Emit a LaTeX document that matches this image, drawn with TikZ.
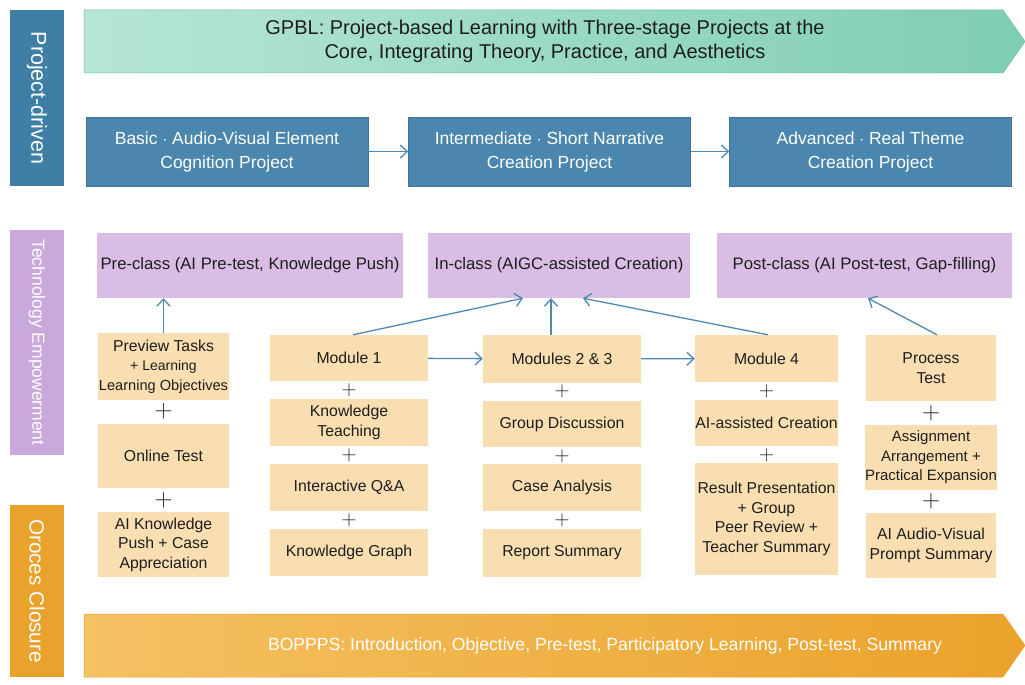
\documentclass[tikz,border=0pt]{standalone}
\usepackage{fontspec}
\setmainfont{Liberation Sans}
\usetikzlibrary{arrows.meta,calc}
\definecolor{bluebox}{HTML}{4A86AD}
\definecolor{purplebox}{HTML}{D9BDE4}
\definecolor{beige}{HTML}{F9DEB1}
\definecolor{tealL}{HTML}{B6E6D4}
\definecolor{tealR}{HTML}{7FCEB2}
\definecolor{tealD}{HTML}{6FBFA2}
\definecolor{orL}{HTML}{F4C163}
\definecolor{orR}{HTML}{EBA22A}
\definecolor{sidepurple}{HTML}{C9A9DC}
\definecolor{sideorange}{HTML}{E9A22C}
\definecolor{sideblue}{HTML}{3F7FA6}
\definecolor{lineblue}{HTML}{5089AF}
\definecolor{txt}{HTML}{1E1E1E}
\begin{document}
\begin{tikzpicture}[x=1pt,y=-1pt,
  sidebar/.style={fill=#1, draw=none, text=white, rotate=-90, inner sep=0pt,
    minimum height=54pt},
  projbox/.style={fill=bluebox, draw=bluebox!85!black, line width=0.4pt, text=white, inner sep=0pt,
    minimum width=282pt, minimum height=69pt, align=center, font=\fontsize{17.5}{24}\selectfont},
  phasebox/.style={fill=purplebox, draw=none, text=txt, inner sep=0pt,
    minimum height=65pt, align=center, font=\fontsize{16.7}{20}\selectfont},
  stepbox/.style={fill=beige, draw=none, text=txt, inner sep=0pt,
    align=center, font=\fontsize{15.8}{19.5}\selectfont},
  bigplus/.style={text=txt, inner sep=0pt, font=\fontsize{32}{32}\selectfont},
  smallplus/.style={text=txt, inner sep=0pt, font=\fontsize{20}{20}\selectfont},
  conn/.style={draw=lineblue, line width=1.3pt, -{Straight Barb[length=7pt,width=13pt,line width=1.3pt]}}
]
\useasboundingbox (0,0) rectangle (1025,685);
\fill[white] (0,0) rectangle (1025,685);

% side bars
\node[sidebar=sideblue, minimum width=176pt, font=\fontsize{21.5}{24}\selectfont] (sd1) at (37,98) {Project-driven};
\node[sidebar=sidepurple, minimum width=225pt, font=\fontsize{17.5}{22}\selectfont] (sd2) at (37,342.5) {Technology Empowerment};
\node[sidebar=sideorange, minimum width=172pt, font=\fontsize{20.7}{24}\selectfont] (sd3) at (37,591) {Oroces Closure};

% top banner
\shade[left color=tealL, right color=tealR, draw=tealD, line width=0.5pt]
  (84,10) -- (1003,10) -- (1025,41.5) -- (1003,73) -- (84,73) -- cycle;
\node[text=txt, align=center, font=\fontsize{20}{24}\selectfont] (gpbl) at (545,41.5)
  {GPBL: Project-based Learning with Three-stage Projects at the\\Core, Integrating Theory, Practice, and Aesthetics};

% project boxes
\node[projbox] (b1) at (227,151.5) {Basic $\cdot$ Audio-Visual Element\\Cognition Project};
\node[projbox] (b2) at (549.5,151.5) {Intermediate $\cdot$ Short Narrative\\Creation Project};
\node[projbox] (b3) at (870.5,151.5) {Advanced $\cdot$ Real Theme\\Creation Project};
\draw[conn] (b1) -- (b2);
\draw[conn] (b2) -- (b3);

% phase boxes
\node[phasebox, minimum width=306pt] (pre) at (250,265.5) {Pre-class (AI Pre-test, Knowledge Push)};
\node[phasebox, minimum width=262pt] (in) at (559,265.5) {In-class (AIGC-assisted Creation)};
\node[phasebox, minimum width=295pt] (post) at (864.5,265.5) {Post-class (AI Post-test, Gap-filling)};

% column 1
\node[stepbox, minimum width=131pt, minimum height=67pt] (c1a) at (163.5,366.5) {Preview Tasks\\{\fontsize{14}{17}\selectfont + Learning}\\{\fontsize{14.6}{19}\selectfont Learning Objectives}};
\node[bigplus] (c1p1) at (163.5,411) {$+$};
\node[stepbox, minimum width=131pt, minimum height=64pt] (c1b) at (163.5,456) {Online Test};
\node[bigplus] (c1p2) at (163.5,500) {$+$};
\node[stepbox, minimum width=131pt, minimum height=65pt] (c1c) at (163.5,544.5) {AI Knowledge\\Push + Case\\Appreciation};

% column 2
\node[stepbox, minimum width=158pt, minimum height=46pt] (m1) at (349,358) {Module 1};
\node[smallplus] (c2p1) at (349,390) {$+$};
\node[stepbox, minimum width=158pt, minimum height=47pt] (kt) at (349,422.5) {Knowledge\\Teaching};
\node[smallplus] (c2p2) at (349,455.5) {$+$};
\node[stepbox, minimum width=158pt, minimum height=47pt] (qa) at (349,487.5) {Interactive Q\&A};
\node[smallplus] (c2p3) at (349,520.5) {$+$};
\node[stepbox, minimum width=158pt, minimum height=47pt] (kg) at (349,552.5) {Knowledge Graph};

% column 3
\node[stepbox, minimum width=158pt, minimum height=48pt] (m23) at (562,359) {Modules 2 \& 3};
\node[smallplus] (c3p1) at (562,391) {$+$};
\node[stepbox, minimum width=158pt, minimum height=46pt] (gd) at (562,424) {Group Discussion};
\node[smallplus] (c3p2) at (562,456) {$+$};
\node[stepbox, minimum width=158pt, minimum height=47pt] (ca) at (562,487.5) {Case Analysis};
\node[smallplus] (c3p3) at (562,520.5) {$+$};
\node[stepbox, minimum width=158pt, minimum height=48pt] (rs) at (562,553) {Report Summary};

% column 4
\node[stepbox, minimum width=143pt, minimum height=47pt] (m4) at (766.5,358.5) {Module 4};
\node[smallplus] (c4p1) at (766.5,391) {$+$};
\node[stepbox, minimum width=143pt, minimum height=46pt] (aic) at (766.5,423) {AI-assisted Creation};
\node[smallplus] (c4p2) at (766.5,455) {$+$};
\node[stepbox, minimum width=143pt, minimum height=112pt] (rp) at (766.5,519) {Result Presentation\\+ Group\\Peer Review +\\Teacher Summary};

% column 5
\node[stepbox, minimum width=130pt, minimum height=66pt] (pt) at (931,368) {Process\\Test};
\node[bigplus] (c5p1) at (931,413) {$+$};
\node[stepbox, minimum width=130pt, minimum height=65pt, font=\fontsize{15}{19.5}\selectfont] (aa) at (931,457.5) {Assignment\\Arrangement +\\Practical Expansion};
\node[bigplus] (c5p2) at (931,501) {$+$};
\node[stepbox, minimum width=130pt, minimum height=65pt] (av) at (931,545.5) {AI Audio-Visual\\Prompt Summary};

% connectors
\draw[conn] (c1a.north) -- (pre.south -| c1a.north);
\draw[conn] (m1) -- (m23);
\draw[conn] (m23) -- (m4);
\draw[conn] ($(m1.north)+(4,0)$) -- ($(in.south)+(-36,0)$);
\draw[conn] ($(m23.north)+(-11,0)$) -- ($(in.south)+(-8,0)$);
\draw[conn] ($(m4.north)+(1.5,0)$) -- ($(in.south)+(24,0)$);
\draw[conn] ($(pt.north)+(6,0)$) -- ($(post.south)+(3.5,0)$);

% bottom banner
\shade[left color=orL, right color=orR, draw=orR, line width=0.5pt]
  (84,614) -- (1003,614) -- (1025,645.5) -- (1003,677) -- (84,677) -- cycle;
\node[text=white, font=\fontsize{17.6}{20}\selectfont] (bop) at (605,645.5)
  {BOPPPS: Introduction, Objective, Pre-test, Participatory Learning, Post-test, Summary};
\end{tikzpicture}
\end{document}
